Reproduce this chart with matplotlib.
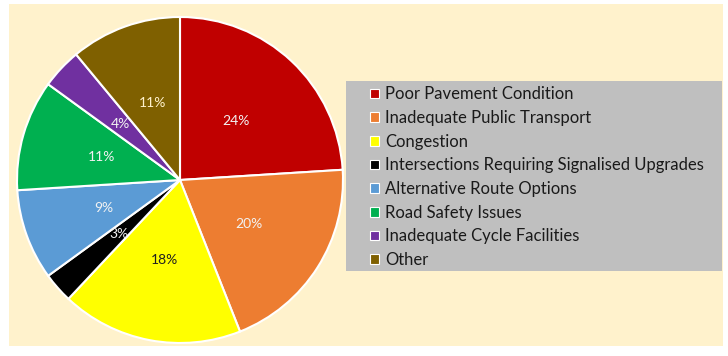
import matplotlib.pyplot as plt
from matplotlib.patches import Rectangle

# data
categories = ['Poor Pavement Condition', 'Inadequate Public Transport', 'Congestion',
              'Intersections Requiring Signalised Upgrades', 'Alternative Route Options',
              'Road Safety Issues', 'Inadequate Cycle Facilities', 'Other']
shares = [24, 20, 18, 3, 9, 11, 4, 11]
colors = ['#C00000', '#ED7D31', '#FFFF00', '#000000', '#5B9BD5', '#00B050', '#7030A0', '#7F6000']
label_colors = ['#F2F2F2', '#F2F2F2', '#202020', '#F2F2F2', '#F2F2F2', '#F2F2F2', '#F2F2F2', '#FFF2CC']

plt.rcParams['font.family'] = ['Lato', 'DejaVu Sans']

W, H = 728, 356
fig = plt.figure(figsize=(W / 100, H / 100), dpi=100)
fig.patch.set_facecolor('white')

# cream panel and grey legend panel (pixel coords -> figure fraction)
def box(x0, y0, x1, y1, color):
    fig.patches.append(Rectangle((x0 / W, 1 - y1 / H), (x1 - x0) / W, (y1 - y0) / H,
                                 transform=fig.transFigure, facecolor=color,
                                 edgecolor='none', zorder=-2))

box(9, 4, 723, 346, '#FFF2CC')
box(346, 81, 722, 271, '#BFBFBF')

# pie centred at (180,180), radius ~163 px
ax = fig.add_axes([17 / W, 1 - 343 / H, 326 / W, 326 / H])
ax.set_facecolor('none')
wedges, texts, autotexts = ax.pie(shares, colors=colors, startangle=90, counterclock=False,
                                  autopct='%d%%', pctdistance=0.5,
                                  wedgeprops=dict(edgecolor='white', linewidth=1.5),
                                  textprops=dict(fontsize=10))
for t, c in zip(autotexts, label_colors):
    t.set_color(c)
for w in wedges:
    w.set_clip_on(False)
ax.set_xlim(-1, 1)
ax.set_ylim(-1, 1)
ax.set_aspect('equal')

leg = fig.legend(wedges, categories, loc='upper left',
                 bbox_to_anchor=(362 / W, 1 - 78 / H), frameon=False,
                 fontsize=12, handlelength=0.5, handleheight=0.5,
                 handletextpad=0.4, labelspacing=0.46, borderpad=0)
for h in leg.legend_handles:
    h.set_edgecolor('white')
    h.set_linewidth(0.8)
for t in leg.get_texts():
    t.set_color('#1a1a1a')

fig.savefig('out.png', dpi=100)
